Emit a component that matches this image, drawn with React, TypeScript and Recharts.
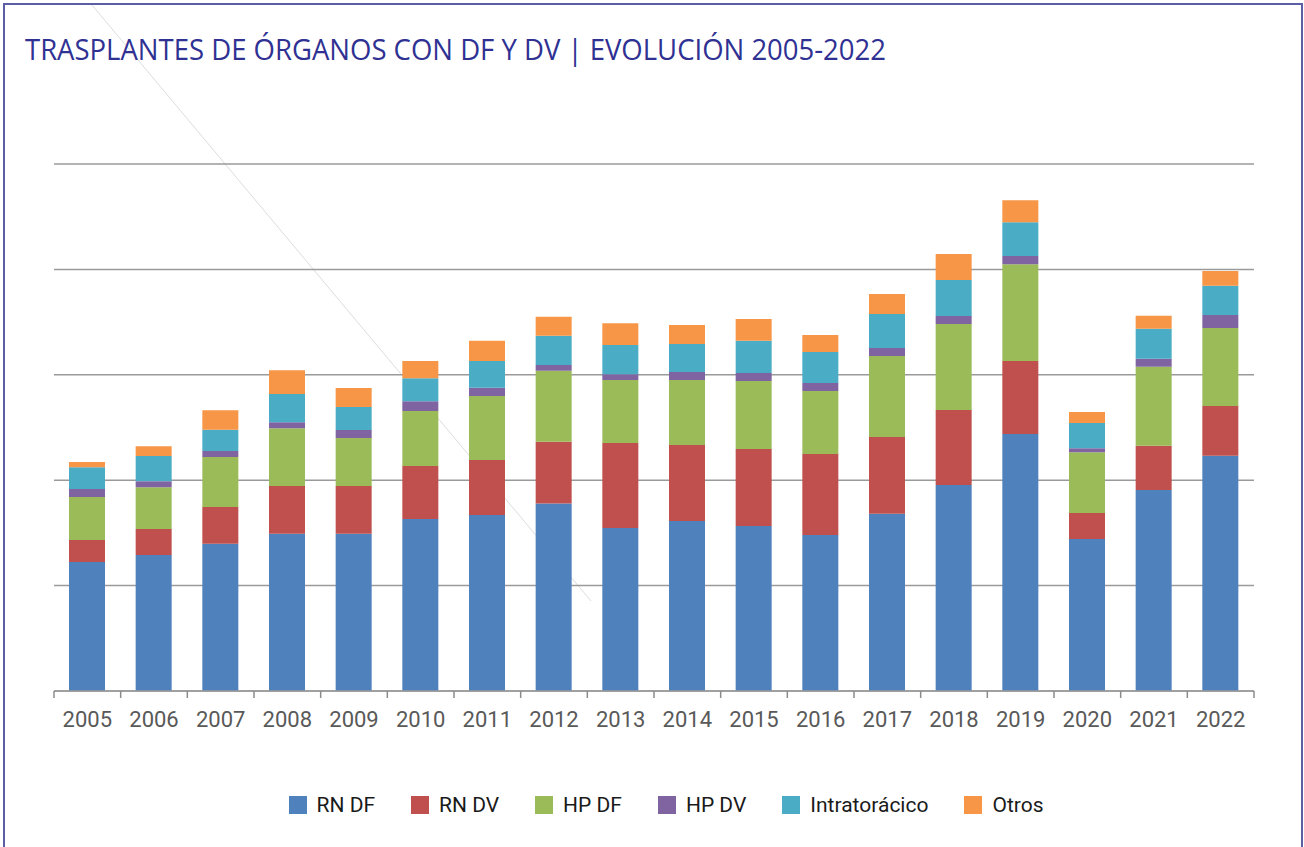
import React from "react";
import { BarChart, Bar, XAxis, YAxis, CartesianGrid } from "recharts";

// valores (escala estimada: cada línea de grilla = 500)
const years = [
  "2005", "2006", "2007", "2008", "2009", "2010", "2011", "2012", "2013",
  "2014", "2015", "2016", "2017", "2018", "2019", "2020", "2021", "2022",
];
const rnDF = [612, 645, 699, 746, 746, 816, 835, 889, 773, 806, 783, 740, 841, 977, 1219, 721, 954, 1116];
const rnDV = [104, 123, 174, 226, 226, 251, 261, 293, 403, 361, 365, 384, 364, 356, 346, 123, 209, 236];
const hpDF = [204, 199, 237, 275, 228, 261, 304, 337, 299, 308, 323, 299, 384, 408, 460, 289, 375, 370];
const hpDV = [38, 28, 28, 28, 38, 47, 38, 28, 28, 38, 38, 38, 38, 38, 38, 19, 38, 62];
const intratoracico = [104, 120, 101, 134, 109, 109, 128, 138, 138, 133, 152, 147, 161, 171, 161, 119, 142, 138];
const otros = [24, 46, 93, 112, 90, 81, 95, 90, 104, 90, 104, 81, 95, 123, 104, 52, 62, 71];
const yTicks = [0, 500, 1000, 1500, 2000, 2500];

const series = [
  { key: "rnDF", name: "RN DF", color: "#4f81bd", values: rnDF },
  { key: "rnDV", name: "RN DV", color: "#c0504d", values: rnDV },
  { key: "hpDF", name: "HP DF", color: "#9bbb59", values: hpDF },
  { key: "hpDV", name: "HP DV", color: "#8064a2", values: hpDV },
  { key: "intra", name: "Intratorácico", color: "#4bacc6", values: intratoracico },
  { key: "otros", name: "Otros", color: "#f79646", values: otros },
];

const data = years.map((year, i) => {
  const row: any = { year };
  series.forEach((s) => {
    row[s.key] = s.values[i];
  });
  return row;
});

const W = 1304;
const H = 847;
const PLOT_LEFT = 54;
const PLOT_RIGHT = 1254;
const BAND = (PLOT_RIGHT - PLOT_LEFT) / years.length;

function YearTick(props: any) {
  const { x, y, payload, index } = props;
  const last = index === years.length - 1;
  return (
    <g>
      <line x1={x - BAND / 2} x2={x - BAND / 2} y1={y - 8} y2={y - 1} stroke="#8c8c8c" strokeWidth={1.5} />
      {last && (
        <line x1={x + BAND / 2} x2={x + BAND / 2} y1={y - 8} y2={y - 1} stroke="#8c8c8c" strokeWidth={1.5} />
      )}
      <text x={x} y={y + 28} textAnchor="middle" fill="#595959" fontSize={22} fontFamily="Roboto">
        {payload.value}
      </text>
    </g>
  );
}

export default function App() {
  return (
    <div style={{ position: "absolute", left: 0, top: 0, width: W, height: H, background: "#fff", overflow: "hidden" }}>
      {/* marco, línea diagonal y título */}
      <svg width={W} height={H} style={{ position: "absolute", left: 0, top: 0 }}>
        <rect x={4} y={4} width={1298} height={860} fill="none" stroke="#5b5ea6" strokeWidth={2} />
        <line x1={92} y1={5} x2={591} y2={601} stroke="#dcdcdc" strokeWidth={1} />
        <text
          x={25}
          y={60}
          fill="#2f3193"
          fontSize={30}
          fontWeight={500}
          fontFamily="Open Sans"
          textLength={861}
          lengthAdjust="spacingAndGlyphs"
        >
          TRASPLANTES DE ÓRGANOS CON DF Y DV | EVOLUCIÓN 2005-2022
        </text>
      </svg>

      <div style={{ position: "absolute", left: 0, top: 0 }}>
        <BarChart
          width={W}
          height={H}
          data={data}
          margin={{ top: 164, right: W - PLOT_RIGHT, left: PLOT_LEFT, bottom: 126 }}
          barSize={36}
        >
          <CartesianGrid vertical={false} stroke="#9a9a9a" strokeWidth={1.5} />
          <YAxis hide domain={[0, 2500]} ticks={yTicks} />
          <XAxis
            dataKey="year"
            height={30}
            axisLine={{ stroke: "#9a9a9a", strokeWidth: 1.5 }}
            tickLine={false}
            interval={0}
            tick={<YearTick />}
          />
          {series.map((s) => (
            <Bar key={s.key} dataKey={s.key} name={s.name} stackId="a" fill={s.color} isAnimationActive={false} />
          ))}
        </BarChart>
      </div>

      {/* leyenda */}
      <div
        style={{
          position: "absolute",
          left: 32,
          top: 793,
          width: W,
          display: "flex",
          justifyContent: "center",
          alignItems: "center",
          fontFamily: "Roboto",
          fontSize: 21,
          color: "#1a1a1a",
        }}
      >
        {series.map((s) => (
          <div key={s.key} style={{ display: "flex", alignItems: "center", marginRight: 36 }}>
            <span style={{ width: 18, height: 18, background: s.color, display: "inline-block", marginRight: 10 }} />
            <span>{s.name}</span>
          </div>
        ))}
      </div>
    </div>
  );
}
